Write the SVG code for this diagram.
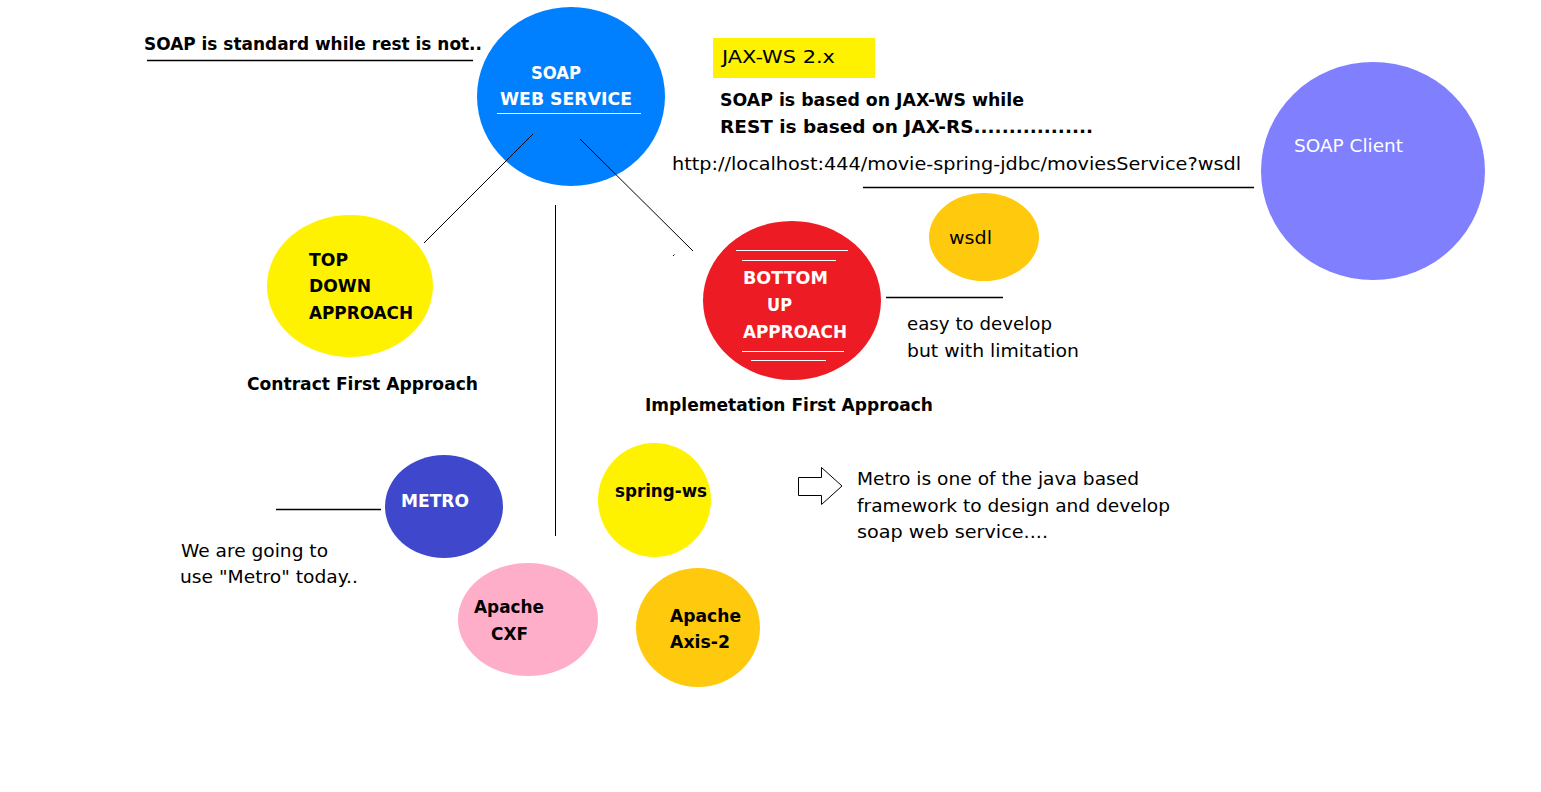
<svg xmlns="http://www.w3.org/2000/svg" width="1541" height="792" viewBox="0 0 1541 792">
<style>
text{font-family:"DejaVu Sans","Liberation Sans",sans-serif;font-size:17px;fill:#000}
.b{font-weight:bold;font-size:18.5px}
.w{fill:#fff}
.ln{stroke:#000;stroke-width:1;fill:none}
.ln2{stroke:#000;stroke-width:1.5;fill:none}
.wl{stroke:#fff;stroke-width:1.2}
</style>
<rect width="1541" height="792" fill="#fff"/>
<g id="note-standard">
<text class="b" x="144" y="50" textLength="338" lengthAdjust="spacingAndGlyphs">SOAP is standard while rest is not..</text>
</g>
<g id="soap-web-service">
<ellipse cx="571" cy="96.5" rx="94" ry="89.5" fill="#0080FF"/>
<text class="b w" x="531" y="79" textLength="50" lengthAdjust="spacingAndGlyphs">SOAP</text>
<text class="b w" x="500" y="105" textLength="132" lengthAdjust="spacingAndGlyphs">WEB SERVICE</text>
<line class="wl" x1="497" y1="113.5" x2="641" y2="113.5"/>
</g>
<g id="jaxws">
<rect x="713" y="38" width="162" height="40" fill="#FFF200"/>
<text x="722" y="63" textLength="113" lengthAdjust="spacingAndGlyphs">JAX-WS 2.x</text>
<text class="b" x="720" y="106" textLength="304" lengthAdjust="spacingAndGlyphs">SOAP is based on JAX-WS while</text>
<text class="b" x="720" y="133" textLength="373" lengthAdjust="spacingAndGlyphs">REST is based on JAX-RS.................</text>
<text x="672" y="170" textLength="569" lengthAdjust="spacingAndGlyphs">http://localhost:444/movie-spring-jdbc/moviesService?wsdl</text>
</g>
<g id="soap-client">
<ellipse cx="1373" cy="171" rx="112" ry="109" fill="#8080FF"/>
<text class="w" x="1294" y="152" textLength="109" lengthAdjust="spacingAndGlyphs">SOAP Client</text>
</g>
<g id="top-down">
<ellipse cx="350" cy="286" rx="83" ry="71" fill="#FFF200"/>
<text class="b" x="309" y="266" textLength="39" lengthAdjust="spacingAndGlyphs">TOP</text>
<text class="b" x="309" y="292" textLength="62" lengthAdjust="spacingAndGlyphs">DOWN</text>
<text class="b" x="309" y="319" textLength="104" lengthAdjust="spacingAndGlyphs">APPROACH</text>
<text class="b" x="247" y="390" textLength="231" lengthAdjust="spacingAndGlyphs">Contract First Approach</text>
</g>
<g id="bottom-up">
<ellipse cx="792" cy="300.5" rx="89" ry="79.5" fill="#ED1C24"/>
<line class="wl" x1="736" y1="250.5" x2="848" y2="250.5"/>
<line class="wl" x1="742" y1="260.5" x2="836" y2="260.5"/>
<line class="wl" x1="742" y1="351.5" x2="844" y2="351.5"/>
<line class="wl" x1="751" y1="360.5" x2="826" y2="360.5"/>
<text class="b w" x="743" y="284" textLength="85" lengthAdjust="spacingAndGlyphs">BOTTOM</text>
<text class="b w" x="767" y="311" textLength="25" lengthAdjust="spacingAndGlyphs">UP</text>
<text class="b w" x="743" y="338" textLength="104" lengthAdjust="spacingAndGlyphs">APPROACH</text>
<text class="b" x="645" y="411" textLength="288" lengthAdjust="spacingAndGlyphs">Implemetation First Approach</text>
</g>
<g id="wsdl">
<ellipse cx="984" cy="237" rx="55" ry="44" fill="#FFC90E"/>
<text x="949" y="244" textLength="43" lengthAdjust="spacingAndGlyphs">wsdl</text>
</g>
<g id="note-easy">
<text x="907" y="330" textLength="145" lengthAdjust="spacingAndGlyphs">easy to develop</text>
<text x="907" y="357" textLength="172" lengthAdjust="spacingAndGlyphs">but with limitation</text>
</g>
<g id="metro">
<ellipse cx="444" cy="506.5" rx="59" ry="51.5" fill="#3F48CC"/>
<text class="b w" x="401" y="507" textLength="68" lengthAdjust="spacingAndGlyphs">METRO</text>
</g>
<g id="note-metro">
<text x="181" y="557" textLength="147" lengthAdjust="spacingAndGlyphs">We are going to</text>
<text x="180" y="583" textLength="178" lengthAdjust="spacingAndGlyphs">use "Metro" today..</text>
</g>
<g id="spring-ws">
<ellipse cx="654.5" cy="500" rx="56.5" ry="57" fill="#FFF200"/>
<text class="b" x="615" y="497" textLength="92" lengthAdjust="spacingAndGlyphs">spring-ws</text>
</g>
<g id="apache-cxf">
<ellipse cx="528" cy="619.5" rx="70" ry="56.5" fill="#FFAEC9"/>
<text class="b" x="474" y="613" textLength="70" lengthAdjust="spacingAndGlyphs">Apache</text>
<text class="b" x="491" y="640" textLength="37" lengthAdjust="spacingAndGlyphs">CXF</text>
</g>
<g id="apache-axis2">
<ellipse cx="698" cy="627.5" rx="62" ry="59.5" fill="#FFC90E"/>
<text class="b" x="670" y="622" textLength="71" lengthAdjust="spacingAndGlyphs">Apache</text>
<text class="b" x="670" y="648" textLength="60" lengthAdjust="spacingAndGlyphs">Axis-2</text>
</g>
<g id="note-framework">
<polygon points="798.5,477.5 821.5,477.5 821.5,467.5 842,486 821.5,504.5 821.5,495.5 798.5,495.5" fill="#fff" stroke="#000" stroke-width="1"/>
<text x="857" y="485" textLength="282" lengthAdjust="spacingAndGlyphs">Metro is one of the java based</text>
<text x="857" y="512" textLength="313" lengthAdjust="spacingAndGlyphs">framework to design and develop</text>
<text x="857" y="538" textLength="191" lengthAdjust="spacingAndGlyphs">soap web service....</text>
</g>
<g id="connectors">
<line class="ln" x1="533" y1="134" x2="424" y2="243"/>
<line class="ln" x1="580" y1="139" x2="693" y2="251"/>
<line class="ln" x1="673" y1="256" x2="674.5" y2="254.5"/>
<line class="ln" x1="555.5" y1="205" x2="555.5" y2="536"/>
<line class="ln2" x1="147" y1="60.5" x2="473" y2="60.5"/>
<line class="ln2" x1="863" y1="187.5" x2="1254" y2="187.5"/>
<line class="ln2" x1="886" y1="297.5" x2="1003" y2="297.5"/>
<line class="ln2" x1="276" y1="509.5" x2="381" y2="509.5"/>
</g>
</svg>
